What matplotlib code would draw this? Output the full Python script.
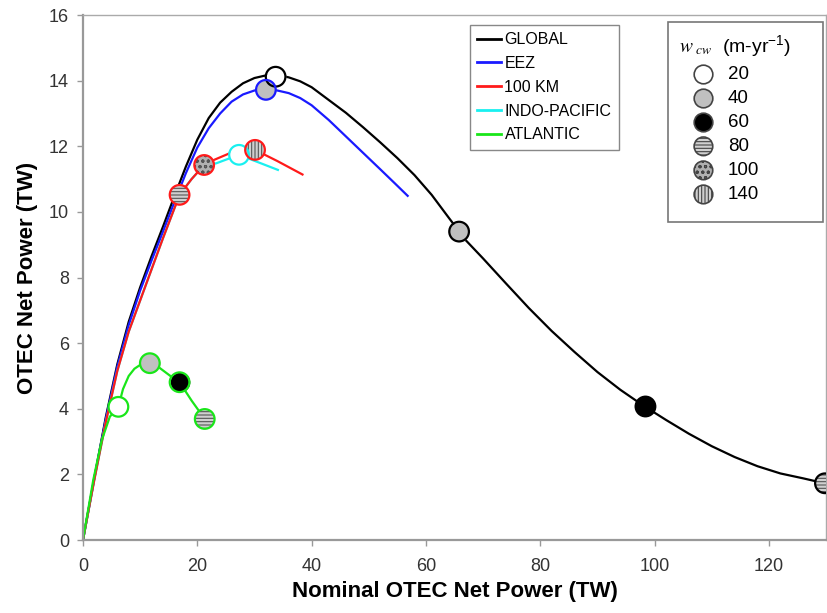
import numpy as np
import matplotlib
matplotlib.use("Agg")
import matplotlib.pyplot as plt
from matplotlib.lines import Line2D
from matplotlib.patches import Rectangle

plt.rcParams['font.family'] = ['Liberation Sans', 'DejaVu Sans']
plt.rcParams['mathtext.fontset'] = 'stix'
plt.rcParams['hatch.color'] = '#555555'
plt.rcParams['hatch.linewidth'] = 0.8

# curves (nominal TW, net TW)
glob_x = [0, 2, 4, 6, 8, 10, 12, 14, 16, 18, 20, 22, 24, 26, 28, 30, 32, 34, 36, 38, 40,
          43, 46, 49, 52, 55, 58, 61, 64, 67, 70, 74, 78, 82, 86, 90, 94, 98, 102, 106,
          110, 114, 118, 122, 126, 130]
glob_y = [0, 1.9, 3.75, 5.35, 6.65, 7.7, 8.65, 9.55, 10.48, 11.38, 12.2, 12.86, 13.33,
          13.66, 13.92, 14.08, 14.16, 14.17, 14.1, 13.98, 13.8, 13.41, 13.02, 12.58, 12.12,
          11.64, 11.12, 10.52, 9.82, 9.13, 8.58, 7.82, 7.07, 6.37, 5.73, 5.12, 4.58, 4.1,
          3.66, 3.24, 2.86, 2.53, 2.25, 2.03, 1.88, 1.72]

eez_x = [0, 2, 4, 6, 8, 10, 12, 14, 16, 18, 20, 22, 24, 26, 28, 30, 32, 34, 36, 38, 40,
         43, 46, 49, 52, 54.5, 56.8]
eez_y = [0, 1.9, 3.7, 5.28, 6.55, 7.6, 8.52, 9.4, 10.3, 11.18, 11.96, 12.55, 13.0, 13.36,
         13.58, 13.7, 13.74, 13.7, 13.62, 13.47, 13.25, 12.8, 12.3, 11.8, 11.3, 10.88, 10.49]

km_x = [0, 2, 4, 6, 8, 10, 12, 14, 16.9, 19, 21.2, 23.0, 25.7, 28, 30.1, 34, 38.4]
km_y = [0, 1.85, 3.6, 5.15, 6.35, 7.3, 8.25, 9.2, 10.52, 11.0, 11.43, 11.59, 11.79, 11.87,
        11.89, 11.55, 11.14]

indo_x = [0, 2, 4, 6, 8, 10, 12, 14, 16.9, 19, 21.2, 23.3, 27.3, 34.1]
indo_y = [0, 1.85, 3.6, 5.15, 6.35, 7.3, 8.25, 9.2, 10.52, 11.0, 11.43, 11.48, 11.74, 11.28]

atl_x = [0, 1.8, 3.3, 4.7, 6.2, 7.0, 8.0, 9.0, 10.2, 11.7, 13.0, 14.3, 15.6, 16.9, 19.0, 21.3]
atl_y = [0, 1.83, 3.05, 3.76, 4.06, 4.6, 5.0, 5.22, 5.36, 5.39, 5.3, 5.13, 4.96, 4.81, 4.25, 3.69]

# w_cw markers on each curve: (x, y, w_cw)
glob_pts = [(33.7, 14.12, 20), (65.8, 9.40, 40), (98.4, 4.07, 60), (129.8, 1.73, 80)]
eez_pts = [(32.0, 13.72, 40)]
km_pts = [(16.9, 10.52, 80), (21.2, 11.43, 100), (30.1, 11.89, 140)]
indo_pts = [(27.3, 11.74, 20)]
atl_pts = [(6.2, 4.06, 20), (11.7, 5.39, 40), (16.9, 4.81, 60), (21.3, 3.69, 80)]

names = ['GLOBAL', 'EEZ', '100 KM', 'INDO-PACIFIC', 'ATLANTIC']
colors = ['black', '#1a1aff', '#ff1a1a', '#19f0f0', '#19e619']
wcw = [20, 40, 60, 80, 100, 140]

# marker look per w_cw value: facecolor, hatch
mstyle = {20: ('white', None), 40: ('#c0c0c0', None), 60: ('black', None),
          80: ('#d0d0d0', '-----'), 100: ('#b0b0b0', 'ooo'), 140: ('#d0d0d0', '|||||')}

fig = plt.figure(figsize=(8.28, 6.13), dpi=100)
ax = fig.add_axes([0.1002, 0.119, 0.8975, 0.8565])

series = [(glob_x, glob_y, glob_pts), (eez_x, eez_y, eez_pts), (indo_x, indo_y, indo_pts),
          (km_x, km_y, km_pts), (atl_x, atl_y, atl_pts)]
order = [0, 1, 3, 2, 4]
for i, (xs, ys, pts) in zip(order, series):
    ax.plot(xs, ys, color=colors[i], lw=1.6, zorder=2, solid_joinstyle='round')

S = 200
for i, (xs, ys, pts) in zip(order, series):
    for (px, py, w) in pts:
        fc, h = mstyle[w]
        ax.scatter([px], [py], s=S, facecolor=fc, edgecolor='#555555', linewidths=0,
                   hatch=h, zorder=4)
        ax.scatter([px], [py], s=S, facecolor='none', edgecolor=colors[i], linewidths=1.6,
                   zorder=5)

ax.set_xlim(0, 130)
ax.set_ylim(0, 16)
ax.set_xticks(np.arange(0, 121, 20))
ax.set_yticks(np.arange(0, 17, 2))
ax.tick_params(direction='out', length=4, width=1, color='#999999', labelsize=13,
               labelcolor='#333333')
ax.tick_params(axis='x', pad=9)
ax.tick_params(axis='y', pad=6)
for side in ['left', 'bottom']:
    ax.spines[side].set_color('#999999')
    ax.spines[side].set_linewidth(1.6)
for side in ['top', 'right']:
    ax.spines[side].set_color('#aaaaaa')
    ax.spines[side].set_linewidth(1.0)

ax.set_xlabel('Nominal OTEC Net Power (TW)', fontsize=16, fontweight='bold', labelpad=4)
ax.set_ylabel('OTEC Net Power (TW)', fontsize=16, fontweight='bold', labelpad=8)

line_handles = [Line2D([], [], color=c, lw=2) for c in colors]
leg1 = ax.legend(line_handles, names, loc='upper left', bbox_to_anchor=(0.521, 0.981),
                 borderaxespad=0, fontsize=11.5, handlelength=1.5, handletextpad=0.2,
                 fancybox=False, edgecolor='#888888', framealpha=1, labelspacing=0.55,
                 borderpad=0.45)
leg1.get_frame().set_linewidth(1.0)
ax.add_artist(leg1)

# the w_cw key box is wider than its contents, so draw the frame by hand
ax.add_patch(Rectangle((0.787, 0.606), 0.209, 0.381, transform=ax.transAxes,
                       facecolor='white', edgecolor='#777777', lw=1.2, zorder=6))

mk_handles = []
for w in wcw:
    fc, h = mstyle[w]
    mk_handles.append(ax.scatter([], [], s=180, facecolor=fc, edgecolor='#444444',
                                 linewidths=1.2, hatch=h))
leg2 = ax.legend(mk_handles, [str(w) for w in wcw], loc='upper left',
                 bbox_to_anchor=(0.787, 0.987), borderaxespad=0, fontsize=13.5,
                 scatterpoints=1, handlelength=2.6, handletextpad=0.0, labelspacing=0.37,
                 frameon=False, borderpad=0.6, alignment='left',
                 title=r'$w_{\ cw}$  (m-yr$\mathregular{^{-1}}$)', title_fontsize=14)
leg2.set_zorder(7)

fig.savefig('out.png', dpi=100)
